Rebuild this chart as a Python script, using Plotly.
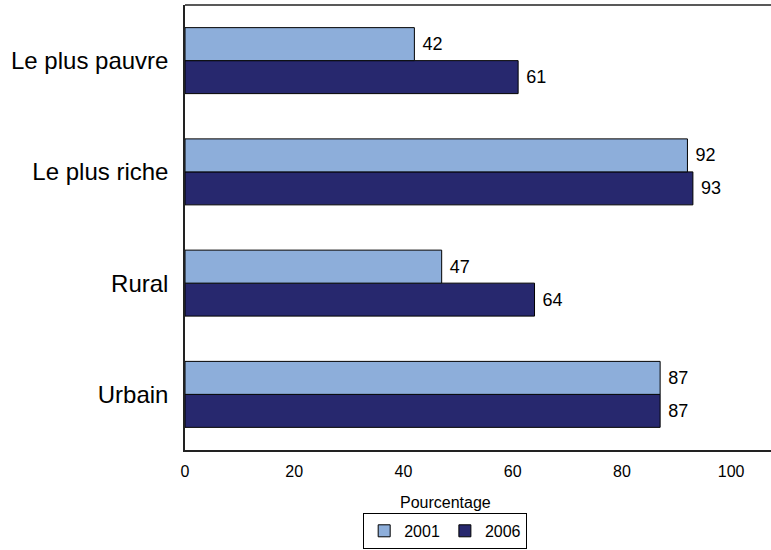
import plotly.graph_objects as go

categories = ["Le plus pauvre", "Le plus riche", "Rural", "Urbain"]
values_2001 = [42, 92, 47, 87]
values_2006 = [61, 93, 64, 87]
series_names = ["2001", "2006"]
tick_values = [0, 20, 40, 60, 80, 100]

cat_rev = categories[::-1]
v01 = values_2001[::-1]
v06 = values_2006[::-1]

fig = go.Figure()
fig.add_trace(go.Bar(
    y=cat_rev, x=v06, name=series_names[1], orientation="h",
    marker=dict(color="#27286E", line=dict(color="black", width=1)),
    text=v06, texttemplate="\u00a0%{x}", textposition="outside", cliponaxis=False,
    textfont=dict(size=18, color="black"),
))
fig.add_trace(go.Bar(
    y=cat_rev, x=v01, name=series_names[0], orientation="h",
    marker=dict(color="#8DAEDA", line=dict(color="black", width=1)),
    text=v01, texttemplate="\u00a0%{x}", textposition="outside", cliponaxis=False,
    textfont=dict(size=18, color="black"),
))

fig.update_layout(
    width=771, height=550,
    margin=dict(l=185, r=0, t=5, b=100, autoexpand=False),
    paper_bgcolor="white", plot_bgcolor="white",
    font=dict(family="Liberation Sans, Arial, sans-serif", color="black"),
    barmode="group", bargap=0.407, bargroupgap=0,
    showlegend=True,
    legend=dict(orientation="h", x=0.444, xanchor="center",
                yref="container", y=0.002, yanchor="bottom",
                bordercolor="black", borderwidth=1, traceorder="reversed",
                font=dict(size=16), itemwidth=30),
    xaxis=dict(range=[0, 107.3], tickvals=tick_values, showgrid=False,
               zeroline=False, showline=True, linecolor="#222222", linewidth=1.5,
               ticks="", tickfont=dict(size=16), ticklabelstandoff=6),
    yaxis=dict(showgrid=False, showline=True, linecolor="#222222", linewidth=1.5,
               ticks="", tickfont=dict(size=24), ticklabelstandoff=10),
    shapes=[dict(type="line", xref="paper", yref="paper", x0=0, x1=1, y0=1, y1=1,
                 line=dict(color="#222222", width=1.5))],
    annotations=[dict(text="Pourcentage", x=0.444, xref="paper", y=-0.117,
                      yref="paper", showarrow=False, font=dict(size=16),
                      xanchor="center", yanchor="middle")],
)

fig.write_html("out.html", config={"displayModeBar": False},
               post_script="document.body.style.margin='0';")
